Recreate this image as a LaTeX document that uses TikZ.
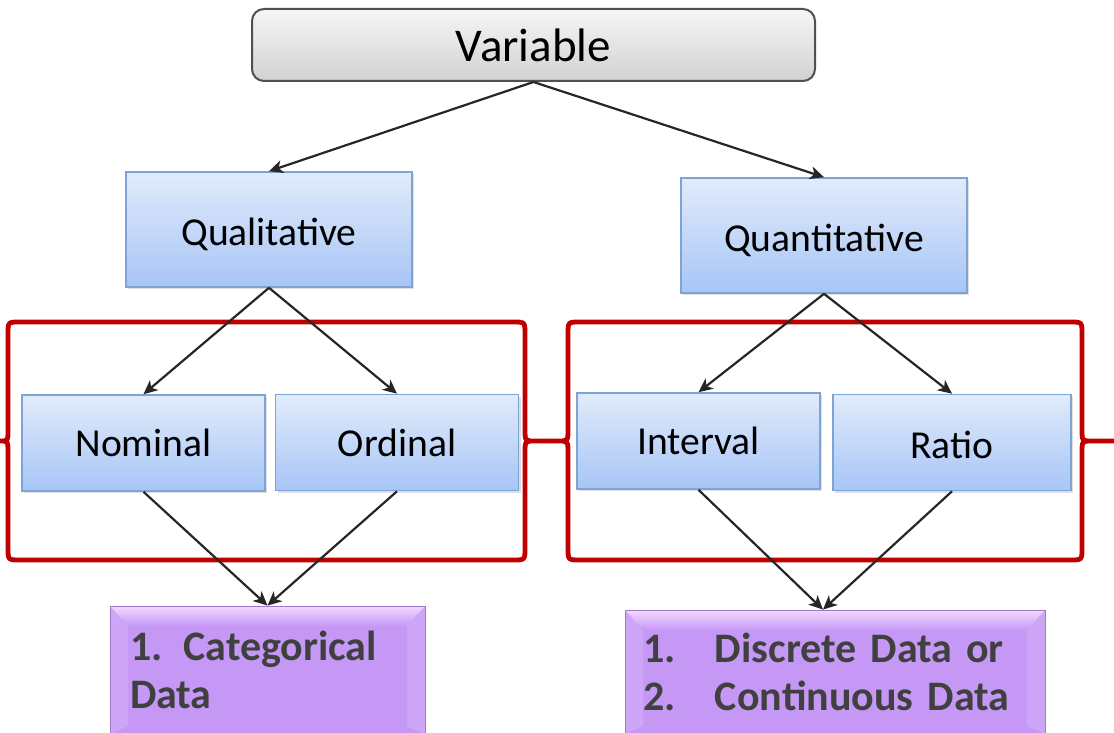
\documentclass[tikz,border=0pt]{standalone}
\usepackage{fontspec}
\setmainfont{Carlito}
\usepackage{xcolor}
\usepackage{tikz}
\usetikzlibrary{arrows.meta, shadows}
\definecolor{blueTop}{HTML}{E1EBFB}
\definecolor{blueBot}{HTML}{A7C5F6}
\definecolor{blueLine}{HTML}{7EA4D6}
\definecolor{grayTop}{HTML}{F6F6F6}
\definecolor{grayBot}{HTML}{D2D2D2}
\definecolor{grayLine}{HTML}{505050}
\definecolor{lilac}{HTML}{C698F6}
\definecolor{lilacTop}{HTML}{F4D8FE}
\definecolor{lilacSide}{HTML}{CEA6F8}
\definecolor{darkText}{HTML}{404040}
\definecolor{braceRed}{HTML}{C00000}
\newcommand{\numitem}[1]{\makebox[36pt][l]{#1}}

\begin{document}
\begin{tikzpicture}[
    x=0.5pt, y=-0.5pt,
    topbox/.style={draw=grayLine, line width=1pt, rounded corners=6pt, top color=grayTop, bottom color=grayBot,
        minimum width=281.5pt, minimum height=36pt, inner sep=0pt, font=\fontsize{23.5}{28}\selectfont},
    kindbox/.style={draw=blueLine, line width=0.8pt, top color=blueTop, bottom color=blueBot, inner sep=0pt,
        drop shadow={opacity=0.25, shadow xshift=1pt, shadow yshift=-1.2pt}, font=\fontsize{19.8}{24}\selectfont},
    lowtext/.style={text height=20pt, text depth=4pt},
    scalebox/.style={kindbox, minimum width=121.5pt, minimum height=48pt},
    resultbox/.style={draw=lilac!80!black, line width=0.4pt, fill=lilac,
        align=left, inner ysep=0pt, text=darkText, font=\bfseries\fontsize{21}{24}\selectfont,
        path picture={
          \fill[lilacSide] (path picture bounding box.north west) -- ([xshift=9pt, yshift=-10pt]path picture bounding box.north west)
              -- ([xshift=9pt, yshift=4pt]path picture bounding box.south west) -- (path picture bounding box.south west) -- cycle;
          \fill[lilacSide] (path picture bounding box.north east) -- ([xshift=-9pt, yshift=-10pt]path picture bounding box.north east)
              -- ([xshift=-9pt, yshift=4pt]path picture bounding box.south east) -- (path picture bounding box.south east) -- cycle;
          \fill[top color=lilacTop, bottom color=lilac] (path picture bounding box.north west)
              -- (path picture bounding box.north east) -- ([xshift=-9pt, yshift=-10pt]path picture bounding box.north east)
              -- ([xshift=9pt, yshift=-10pt]path picture bounding box.north west) -- cycle;
        }},
    bracket/.style={draw=braceRed, line width=2.4pt},
    arrow/.style={-{Stealth[length=7pt, width=6.5pt, inset=2pt]}, line width=1.1pt, black!85}
]
\useasboundingbox (0,0) rectangle (1114,733);

% top level
\node[topbox] (var) at (533.5,45) {Variable};
\node[kindbox, lowtext, minimum width=143pt, minimum height=57.5pt] (qual) at (269,229.5) {Qualitative};
\node[kindbox, lowtext, minimum width=143pt, minimum height=57.5pt] (quan) at (824,235.5) {Quantitative};

% red groups
\draw[bracket] (20,322) .. controls (8,322) .. (8,334) -- (8,429) .. controls (8,441) .. (0,441)
    .. controls (8,441) .. (8,453) -- (8,548) .. controls (8,560) .. (20,560) -- (513,560)
    .. controls (525,560) .. (525,548) -- (525,453) .. controls (525,441) .. (535,441) -- (547,441)
    -- (535,441) .. controls (525,441) .. (525,429) -- (525,334) .. controls (525,322) .. (513,322) -- cycle;
\draw[bracket] (580,322) .. controls (568,322) .. (568,334) -- (568,429) .. controls (568,441) .. (558,441) -- (547,441)
    -- (558,441) .. controls (568,441) .. (568,453) -- (568,548) .. controls (568,560) .. (580,560) -- (1070,560)
    .. controls (1082,560) .. (1082,548) -- (1082,453) .. controls (1082,441) .. (1092,441) -- (1120,441)
    -- (1092,441) .. controls (1082,441) .. (1082,429) -- (1082,334) .. controls (1082,322) .. (1070,322) -- cycle;

% scales
\node[scalebox] (nom) at (143.5,443) {Nominal};
\node[scalebox] (ord) at (397,442.5) {Ordinal};
\node[scalebox] (intv) at (698.5,441) {Interval};
\node[scalebox, lowtext, minimum width=119pt] (ratio) at (952,442.5) {Ratio};

% results
\node[resultbox, minimum width=157.5pt, minimum height=64pt, text width=137.5pt] (cat) at (267.5,670)
    {1. Categorical\\Data};
\node[resultbox, minimum width=210pt, minimum height=62pt, text width=192pt] (disc) at (835,672)
    {\numitem{1.}Discrete Data or\\\numitem{2.}Continuous Data};

\draw[arrow] (var.south) -- (qual.north);
\draw[arrow] (var.south) -- (quan.north);
\draw[arrow] (qual.south) -- (nom.north);
\draw[arrow] (qual.south) -- (ord.north);
\draw[arrow] (quan.south) -- (intv.north);
\draw[arrow] (quan.south) -- (ratio.north);
\draw[arrow] (nom.south) -- (cat.north);
\draw[arrow] (ord.south) -- (cat.north);
\draw[arrow] (intv.south) -- ([xshift=-6pt]disc.north);
\draw[arrow] (ratio.south) -- ([xshift=-6pt]disc.north);
\end{tikzpicture}
\end{document}
